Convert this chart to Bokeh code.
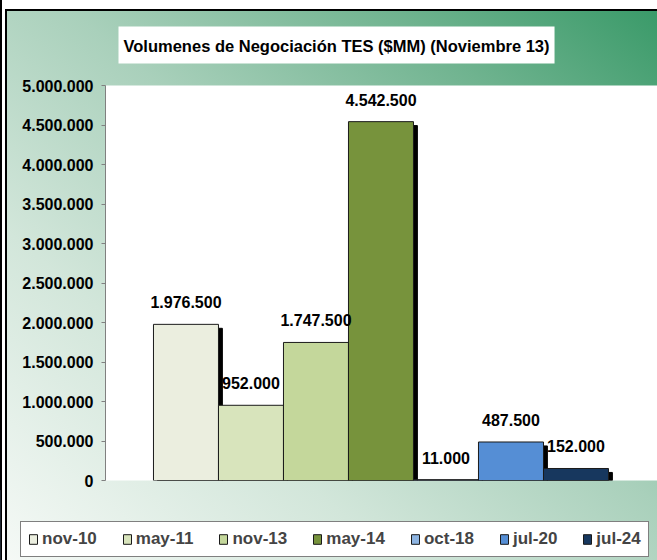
from bokeh.plotting import figure
from bokeh.models import (ColumnDataSource, Range1d, FixedTicker, CustomJSTickFormatter,
                          Title, Legend, LegendItem)
from bokeh.core.properties import value
from bokeh.embed import file_html
from bokeh.resources import INLINE

# ---- data ----
series = ["nov-10", "may-11", "nov-13", "may-14", "oct-18", "jul-20", "jul-24"]
volumes = [1976500, 952000, 1747500, 4542500, 11000, 487500, 152000]
colors = ["#EBEEDF", "#D8E4BC", "#C4D79B", "#77933C", "#8DB4E2", "#558ED5", "#17375E"]
y_ticks = [0, 500000, 1000000, 1500000, 2000000, 2500000, 3000000, 3500000, 4000000, 4500000, 5000000]
title_text = "Volumenes de Negociación TES ($MM) (Noviembre 13)"

FONT = "Liberation Sans"
GRAD = "linear-gradient(to top right, #f5f9f6 0%, #d2e6da 30%, #a9d0bb 55%, #6fb38f 80%, #3a9a69 100%)"

def fmt(v):
    return f"{v:,}".replace(",", ".")

idx = list(range(len(series)))
src = ColumnDataSource(dict(
    x=idx, top=volumes, color=colors, name=series,
    label=[fmt(v) for v in volumes],
))
# shadow offsets derived from data scale (approx 4px right / 4px down)
shadow = ColumnDataSource(dict(
    x=[i + 0.06 for i in idx], top=[v - 50000 for v in volumes],
))

TOP_H = 490
p = figure(width=657, height=TOP_H, output_backend="svg", toolbar_location=None,
           x_range=Range1d(-1.238, 7.254), y_range=Range1d(0, 5000000),
           min_border_left=105, min_border_right=0, min_border_top=85, min_border_bottom=TOP_H - 480)
p.styles = {
    "background": (
        "linear-gradient(#000,#000) no-repeat 0px 0px / 2px 100%, "
        "linear-gradient(#000,#000) no-repeat 5px 9px / 2px 100%, "
        "linear-gradient(#000,#000) no-repeat 5px 9px / 652px 2px, "
        f"{GRAD} no-repeat 6px 10px / 651px 550px, white"
    ),
}
p.border_fill_color = None
p.background_fill_color = "white"
p.outline_line_color = None
p.xgrid.visible = False
p.ygrid.visible = False
p.xaxis.visible = False

yax = p.yaxis[0]
yax.ticker = FixedTicker(ticks=y_ticks)
yax.formatter = CustomJSTickFormatter(code="""
    return String(Math.round(tick)).replace(/\\B(?=(\\d{3})+(?!\\d))/g, '.');
""")
yax.axis_line_color = "#808080"
yax.major_tick_line_color = "#808080"
yax.major_tick_in = 0
yax.major_tick_out = 4
yax.minor_tick_line_color = None
yax.major_label_standoff = 8
yax.major_label_text_font = FONT
yax.major_label_text_font_style = "bold"
yax.major_label_text_font_size = "16px"
yax.major_label_text_color = "black"

# shadows
p.vbar(x="x", top="top", bottom=-60000, width=1, source=shadow,
       fill_color="black", line_color="black")
# bars
p.vbar(x="x", top="top", bottom=0, width=1, source=src,
       fill_color="color", line_color="#1a1a1a", line_width=1)

# value labels
p.text(x="x", y="top", text="label", source=src, text_align="center",
       text_baseline="middle", y_offset=-22, text_font=value(FONT),
       text_font_style="bold", text_font_size="16px", text_color="black")

# title
t = Title(text=title_text, align="left", offset=13, standoff=44,
          text_font=FONT, text_font_style="bold", text_font_size="16.5px",
          text_color="black", background_fill_color="white",
          padding=dict(left=5, right=5, top=10, bottom=9))
p.add_layout(t, "above")

# legend strip (separate root below the plot, bars kept out of view)
p2 = figure(width=657, height=560 - TOP_H, output_backend="svg", toolbar_location=None,
            x_range=Range1d(100, 101), y_range=Range1d(0, 1), min_border=0)
p2.styles = {
    "background": (
        "linear-gradient(#000,#000) no-repeat 0px 0px / 2px 100%, "
        "linear-gradient(#000,#000) no-repeat 5px 0px / 2px 100%, "
        f"{GRAD} no-repeat 6px {10 - TOP_H}px / 651px 550px, white"
    ),
}
p2.border_fill_color = None
p2.background_fill_color = None
p2.outline_line_color = None
p2.axis.visible = False
p2.grid.visible = False
leg_bars = p2.vbar(x="x", top="top", bottom=0, width=1, source=src,
                   fill_color="color", line_color="#1a1a1a", line_width=1)

items = [LegendItem(label=s, renderers=[leg_bars], index=i) for i, s in enumerate(series)]
leg = Legend(items=items, orientation="horizontal", location=(20, 3),
             border_line_color="black", border_line_width=1,
             background_fill_color="white", background_fill_alpha=1,
             label_text_font=FONT, label_text_font_style="bold",
             label_text_font_size="17px", glyph_width=10, glyph_height=12,
             label_standoff=4, spacing=25, padding=7, margin=0, label_height=18)
p2.add_layout(leg, "center")

open("out.html", "w").write(file_html([p, p2], INLINE))
